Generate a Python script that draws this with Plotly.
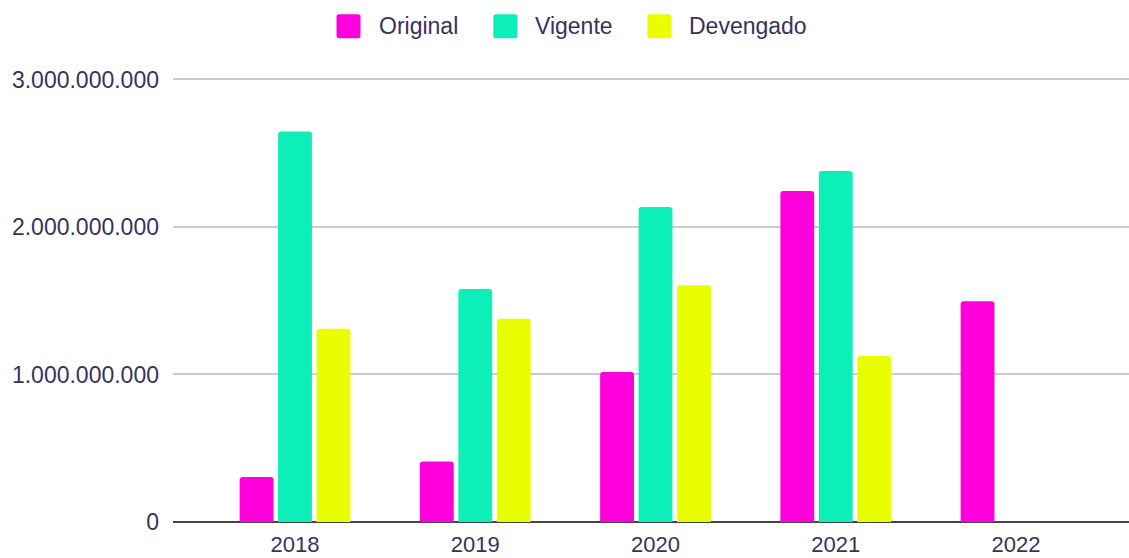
import plotly.graph_objects as go

years = ["2018", "2019", "2020", "2021", "2022"]
original = [305_000_000, 410_000_000, 1_017_000_000, 2_244_000_000, 1_496_000_000]
vigente = [2_648_000_000, 1_580_000_000, 2_136_000_000, 2_380_000_000, None]
devengado = [1_310_000_000, 1_378_000_000, 1_605_000_000, 1_125_000_000, None]
y_ticks = [0, 1_000_000_000, 2_000_000_000, 3_000_000_000]

series = [
    ("Original", original, "#ff00dc"),
    ("Vigente", vigente, "#0cefb8"),
    ("Devengado", devengado, "#e9ff00"),
]

text_color = "#37325e"
font_family = "Liberation Sans, Arial, sans-serif"

W, H = 1129, 558
L, R, T, B = 173, 0, 78, 36
PW, PH = W - L - R, H - T - B

def px_to_paper_x(px):
    return (px - L) / PW

def px_to_paper_y(py):
    return (H - B - py) / PH

fig = go.Figure()
for name, vals, color in series:
    fig.add_trace(go.Bar(x=years, y=vals, name=name, showlegend=False,
                         marker=dict(color=color, line=dict(width=0))))

# custom legend (large rounded squares) at top centre
legend_sq_cx = [348.5, 505.3, 659.3]
legend_cy = 26.3
r = 2.5
h = 12
sq_path = (f"M{-h+r},{-h} L{h-r},{-h} Q{h},{-h} {h},{-h+r} L{h},{h-r} Q{h},{h} {h-r},{h} "
           f"L{-h+r},{h} Q{-h},{h} {-h},{h-r} L{-h},{-h+r} Q{-h},{-h} {-h+r},{-h} Z")
shapes = []
annotations = []
for (name, _, color), cx in zip(series, legend_sq_cx):
    shapes.append(dict(type="path", xref="paper", yref="paper",
                       xsizemode="pixel", ysizemode="pixel",
                       xanchor=px_to_paper_x(cx), yanchor=px_to_paper_y(legend_cy),
                       path=sq_path, fillcolor=color, line=dict(width=0), layer="above"))
    annotations.append(dict(text=name, xref="paper", yref="paper",
                            x=px_to_paper_x(cx + 12 + 16), y=px_to_paper_y(legend_cy),
                            xanchor="left", yanchor="middle", showarrow=False,
                            font=dict(size=23, color=text_color, family=font_family)))

fig.update_layout(
    width=W, height=H,
    margin=dict(l=L, r=R, t=T, b=B, autoexpand=False),
    paper_bgcolor="white", plot_bgcolor="white",
    font=dict(family=font_family, size=23, color=text_color),
    barmode="group", bargap=0.36, bargroupgap=0.12,
    barcornerradius=3,
    separators=",.",
    showlegend=False,
    shapes=shapes, annotations=annotations,
    xaxis=dict(range=[-0.677, 4.627], showgrid=False, showline=False, zeroline=False,
               ticks="", ticklabelstandoff=7,
               tickfont=dict(size=22, color=text_color)),
    yaxis=dict(range=[0, 3_010_000_000], tickvals=y_ticks, tickformat=",d",
               showgrid=True, gridcolor="#cccccc", gridwidth=2,
               zeroline=True, zerolinecolor="#444444", zerolinewidth=2,
               showline=False, ticks="", ticklabelstandoff=13,
               tickfont=dict(size=23, color=text_color)),
)

fig.write_html("out.html", config={"displayModeBar": False},
               post_script="document.body.style.margin='0';document.body.style.overflow='hidden';")
